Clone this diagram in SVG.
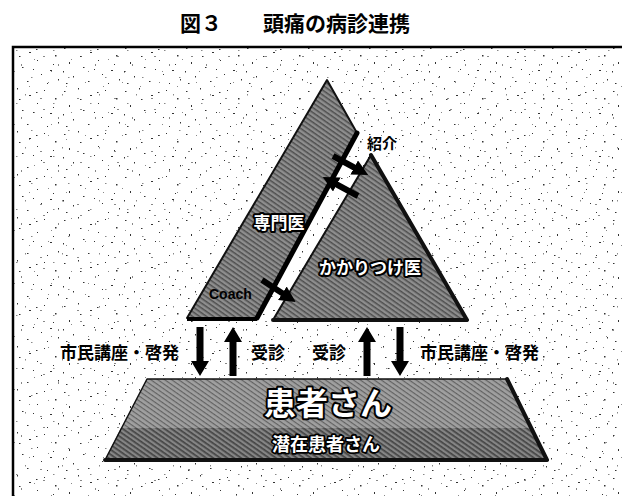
<svg xmlns="http://www.w3.org/2000/svg" width="622" height="496" viewBox="0 0 622 496">
<defs>
<style>
.t{font-family:"Noto Sans CJK JP","Liberation Sans",sans-serif;font-weight:700}
.w{fill:#fff;stroke:#000;stroke-width:4;paint-order:stroke;stroke-linejoin:round}
.b{fill:#000}
.edge{fill:none;stroke:#111;stroke-linejoin:round;stroke-linecap:round}
.blk{fill:#000}
.arr{fill:none;stroke:#000;stroke-width:6;stroke-linecap:butt}
</style>
<pattern id="spA" width="61" height="43" patternUnits="userSpaceOnUse">
<g fill="#333">
<rect x="3" y="5" width="1.5" height="1"/><rect x="17" y="2" width="1" height="1.5"/><rect x="29" y="9" width="2" height="1"/><rect x="44" y="4" width="1" height="1"/><rect x="55" y="12" width="1.5" height="1.5"/><rect x="8" y="19" width="1" height="2"/><rect x="22" y="24" width="1.5" height="1"/><rect x="37" y="17" width="1" height="1"/><rect x="50" y="27" width="2" height="1"/><rect x="12" y="33" width="1" height="1.5"/><rect x="27" y="38" width="1.5" height="1"/><rect x="41" y="31" width="1" height="1"/><rect x="58" y="36" width="1" height="1.5"/><rect x="5" y="40" width="1.5" height="1"/><rect x="33" y="26" width="1" height="1"/><rect x="47" y="40" width="1" height="1"/><rect x="19" y="13" width="1.5" height="1"/><rect x="53" y="21" width="1" height="1"/><rect x="2" y="28" width="1" height="1.5"/><rect x="36" y="6" width="1.5" height="1"/>
</g>
</pattern>
<pattern id="spB" width="37" height="53" patternUnits="userSpaceOnUse">
<g fill="#888">
<rect x="6" y="3" width="2" height="1"/><rect x="21" y="11" width="1" height="2"/><rect x="31" y="24" width="1.5" height="1"/><rect x="11" y="29" width="1" height="1"/><rect x="3" y="45" width="2" height="1"/><rect x="25" y="41" width="1" height="1.5"/><rect x="16" y="50" width="1.5" height="1"/><rect x="34" y="6" width="1" height="1"/><rect x="14" y="18" width="1" height="1"/><rect x="29" y="33" width="1" height="1"/>
</g>
</pattern>
<pattern id="hatch" width="4" height="4" patternUnits="userSpaceOnUse" patternTransform="rotate(35)">
<rect width="4" height="4" fill="#8e8e8e"/>
<rect width="4" height="1.5" fill="#4e4e4e"/>
</pattern>
<pattern id="hatchL" width="4" height="4" patternUnits="userSpaceOnUse" patternTransform="rotate(35)">
<rect width="4" height="4" fill="#a0a0a0"/>
<rect width="4" height="1.2" fill="#626262"/>
</pattern>
<pattern id="hatchD" width="4" height="4" patternUnits="userSpaceOnUse" patternTransform="rotate(35)">
<rect width="4" height="4" fill="#858585"/>
<rect width="4" height="1.7" fill="#444"/>
</pattern>
<marker id="ah" viewBox="0 0 10 10" refX="2" refY="5" markerWidth="16" markerHeight="16" markerUnits="userSpaceOnUse" orient="auto">
<path d="M0,0 L10,5 L0,10 z" fill="#000"/>
</marker>
</defs>

<rect width="622" height="496" fill="#fff"/>

<g id="title">
<text class="t b" x="180" y="31" font-size="21">図３<tspan x="263">頭痛の病診連携</tspan></text>
</g>

<g id="frame">
<rect x="13" y="47" width="640" height="480" fill="url(#spB)"/>
<rect x="13" y="47" width="640" height="480" fill="url(#spA)"/>
<rect x="13" y="47" width="640" height="480" fill="none" stroke="#000" stroke-width="2.5"/>
</g>

<g id="senmoni">
<polygon points="327,80 357,133 257,318 187,318" fill="url(#hatch)"/>
<polyline class="edge" points="187,318 327,80 357,133" stroke-width="2"/>
<line x1="357" y1="133" x2="257" y2="318" stroke="#000" stroke-width="5" stroke-linecap="round"/>
<line x1="187" y1="319" x2="257" y2="319" stroke="#000" stroke-width="4"/>
<text class="t w" x="279" y="229" font-size="17" text-anchor="middle">専門医</text>
</g>

<g id="kakaritsuke">
<polygon points="371,155 467,320 273,320" fill="url(#hatch)"/>
<polyline class="edge" points="273,320 371,155" stroke-width="2"/>
<polyline class="edge" points="371,155 467,320 273,320" stroke-width="4"/>
<text class="t w" x="370" y="274" font-size="17" text-anchor="middle">かかりつけ医</text>
</g>

<g id="connectors">
<path class="arr" d="M333,156 L357,169" marker-end="url(#ah)"/>
<path class="arr" d="M358,196 L334,183" marker-end="url(#ah)"/>
<path class="arr" d="M262,280 L285,295" marker-end="url(#ah)"/>
<polygon class="blk" points="196.5,327 203.5,327 203.5,361 209,361 200,376 191,361 196.5,361"/>
<polygon class="blk" points="229.5,376 236.5,376 236.5,342 242,342 233,327 224,342 229.5,342"/>
<polygon class="blk" points="363.5,376 370.5,376 370.5,342 376,342 367,327 358,342 363.5,342"/>
<polygon class="blk" points="396.5,327 403.5,327 403.5,361 409,361 400,376 391,361 396.5,361"/>
</g>

<g id="labels">
<text class="t b" x="382" y="149" font-size="15" text-anchor="middle">紹介</text>
<text class="b" x="209" y="299" font-size="14" style="font-family:'Liberation Sans',sans-serif;font-weight:700">Coach</text>
<text class="t b" x="60" y="359" font-size="17">市民講座・啓発</text>
<text class="t b" x="251" y="359" font-size="17">受診</text>
<text class="t b" x="312" y="359" font-size="17">受診</text>
<text class="t b" x="420" y="359" font-size="17">市民講座・啓発</text>
</g>

<g id="kanja">
<polygon points="147,379 507,379 547,460 105,460" fill="url(#hatchL)"/>
<polygon points="121,428 533,428 547,460 105,460" fill="url(#hatchD)"/>
<polyline class="edge" points="105,460 147,379 507,379" stroke-width="1.5"/>
<polyline class="edge" points="507,379 547,460 105,460" stroke-width="4"/>
<text class="t w" x="328" y="415" font-size="32" text-anchor="middle">患者さん</text>
</g>

<g id="senzai">
<text class="t w" x="326" y="451" font-size="18" text-anchor="middle" style="stroke-width:3.5">潜在患者さん</text>
</g>
</svg>
